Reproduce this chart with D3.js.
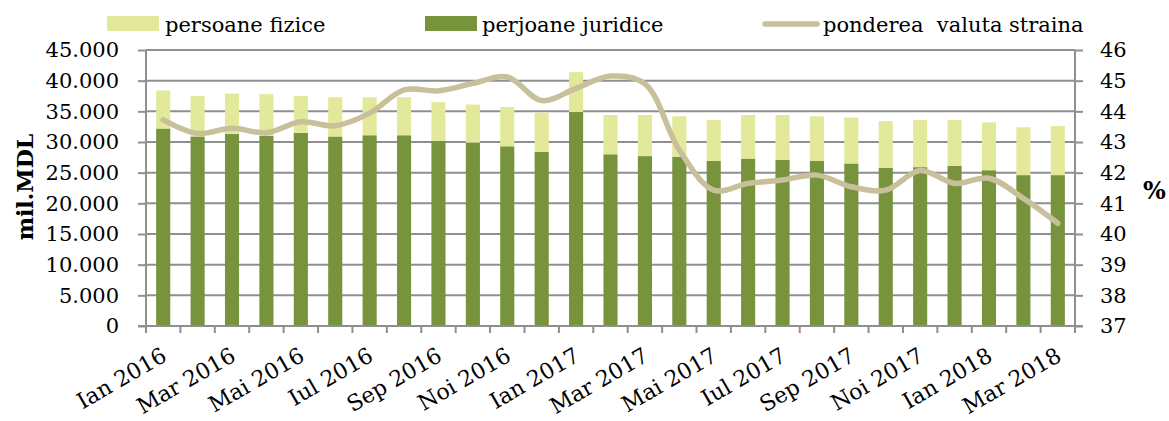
<!DOCTYPE html>
<html>
<head>
<meta charset="utf-8">
<script src="https://cdnjs.cloudflare.com/ajax/libs/d3/7.8.5/d3.min.js"></script>
<style>
    body { margin: 0; background: #fff; }
</style>
</head>
<body>
<svg class="chart"></svg>
<script>
// months Ian 2016 - Mar 2018
var months = ["Ian 2016", "Feb 2016", "Mar 2016", "Apr 2016", "Mai 2016", "Iun 2016", "Iul 2016", "Aug 2016",
    "Sep 2016", "Oct 2016", "Noi 2016", "Dec 2016", "Ian 2017", "Feb 2017", "Mar 2017", "Apr 2017",
    "Mai 2017", "Iun 2017", "Iul 2017", "Aug 2017", "Sep 2017", "Oct 2017", "Noi 2017", "Dec 2017",
    "Ian 2018", "Feb 2018", "Mar 2018"];

var juridice = [32200, 30900, 31300, 31000, 31500, 30900, 31100, 31100, 30200, 29900, 29300, 28400, 34900, 28000,
    27700, 27600, 26900, 27300, 27100, 26900, 26500, 25800, 25900, 26100, 25400, 24600, 24600];
var fizice = [6200, 6600, 6600, 6800, 6000, 6400, 6200, 6200, 6300, 6200, 6400, 6400, 6500, 6400,
    6700, 6600, 6700, 7100, 7300, 7300, 7500, 7600, 7700, 7500, 7800, 7800, 8000];
var ponderea = [43.72, 43.28, 43.45, 43.3, 43.66, 43.53, 43.94, 44.7, 44.67, 44.91, 45.12, 44.35, 44.75, 45.15,
    44.9, 42.74, 41.43, 41.65, 41.76, 41.92, 41.54, 41.43, 42.07, 41.65, 41.82, 41.16, 40.35];

var leftTicks = [0, 5000, 10000, 15000, 20000, 25000, 30000, 35000, 40000, 45000];
var rightTicks = [37, 38, 39, 40, 41, 42, 43, 44, 45, 46];
var legendNames = ["persoane fizice", "perjoane juridice", "ponderea  valuta straina"];

var colDark = "#77933c",
    colLight = "#e3e99b",
    colLine = "#c8c09b",
    colGrid = "#8f8f8f";
var fontFam = "'DejaVu Serif', serif";

var width = 1169,
    height = 421;
var plotL = 146, plotR = 1075, plotT = 50, plotB = 326;

var svg = d3.select(".chart")
    .attr("width", width)
    .attr("height", height);

var ro = d3.formatLocale({decimal: ",", thousands: ".", grouping: [3], currency: ["", ""]});
var fmt = ro.format(",");

var x = d3.scaleBand().domain(months).range([plotL, plotR]).paddingInner(0.59).paddingOuter(0.295);
var yL = d3.scaleLinear().domain([0, 45000]).range([plotB, plotT]);
var yR = d3.scaleLinear().domain([37, 46]).range([plotB, plotT]);

//grid lines
svg.append("g").selectAll("line").data(leftTicks).enter().append("line")
    .attr("x1", plotL).attr("x2", plotR)
    .attr("y1", function(d) { return yL(d); })
    .attr("y2", function(d) { return yL(d); })
    .attr("stroke", colGrid)
    .attr("stroke-width", 2);

//stacked bars
var stackData = months.map(function(m, i) { return {month: m, juridice: juridice[i], fizice: fizice[i]}; });
var series = d3.stack().keys(["juridice", "fizice"])(stackData);
var barCols = {juridice: colDark, fizice: colLight};

svg.append("g").selectAll("g").data(series).enter().append("g")
    .attr("fill", function(s) { return barCols[s.key]; })
    .selectAll("rect").data(function(s) { return s; }).enter().append("rect")
    .attr("x", function(d) { return x(d.data.month); })
    .attr("width", x.bandwidth())
    .attr("y", function(d) { return yL(d[1]); })
    .attr("height", function(d) { return yL(d[0]) - yL(d[1]); });

//left axis
var axL = svg.append("g").attr("transform", "translate(" + plotL + ",0)")
    .call(d3.axisLeft(yL).tickValues(leftTicks).tickFormat(fmt).tickSize(8).tickPadding(19));
//right axis
var axR = svg.append("g").attr("transform", "translate(" + plotR + ",0)")
    .call(d3.axisRight(yR).tickValues(rightTicks).tickSize(8).tickPadding(17));

[axL, axR].forEach(function(a) {
    a.attr("font-family", null).attr("font-size", null);
    a.selectAll("path, line").attr("stroke", colGrid).attr("stroke-width", 2);
    a.selectAll("text").style("font-family", fontFam).style("font-size", "21px").attr("fill", "#000");
});
axL.select(".domain").attr("d", "M0," + plotB + "V" + plotT);
axR.select(".domain").attr("d", "M0," + plotB + "V" + plotT);

//x axis line + ticks between months
var step = x.step();
var xAxisG = svg.append("g");
xAxisG.append("line")
    .attr("x1", plotL - 8).attr("x2", plotR + 8)
    .attr("y1", plotB).attr("y2", plotB)
    .attr("stroke", colGrid).attr("stroke-width", 2);
xAxisG.selectAll(".xt").data(months.concat(["end"])).enter().append("line")
    .attr("class", "xt")
    .attr("x1", function(d, i) { return plotL + i * step; })
    .attr("x2", function(d, i) { return plotL + i * step; })
    .attr("y1", plotB).attr("y2", plotB + 7)
    .attr("stroke", colGrid).attr("stroke-width", 2);

//month labels, every second one
xAxisG.selectAll(".xl").data(months.filter(function(d, i) { return i % 2 === 0; })).enter().append("text")
    .attr("class", "xl")
    .attr("text-anchor", "end")
    .style("font-family", fontFam)
    .style("font-size", "22px")
    .attr("transform", function(d) {
        return "translate(" + (x(d) + x.bandwidth() / 2 + 5) + "," + (plotB + 34) + ") rotate(-30)";
    })
    .text(function(d) { return d; });

//line for ponderea
var line = d3.line()
    .x(function(d, i) { return x(months[i]) + x.bandwidth() / 2; })
    .y(function(d) { return yR(d); })
    .curve(d3.curveCatmullRom.alpha(0.5));

svg.append("path").datum(ponderea)
    .attr("d", line)
    .attr("fill", "none")
    .attr("stroke", colLine)
    .attr("stroke-width", 5.5)
    .attr("stroke-linecap", "round")
    .attr("stroke-linejoin", "round");

//axis titles
svg.append("text")
    .attr("transform", "translate(33,187) rotate(-90)")
    .attr("text-anchor", "middle")
    .style("font-family", fontFam)
    .style("font-size", "22px")
    .style("font-weight", "bold")
    .text("mil.MDL");

svg.append("text")
    .attr("x", 1143).attr("y", 199)
    .style("font-family", fontFam)
    .style("font-size", "24px")
    .style("font-weight", "bold")
    .text("%");

//legend
var legend = svg.append("g");
legend.append("rect").attr("x", 107).attr("y", 16).attr("width", 52).attr("height", 15).attr("fill", colLight);
legend.append("rect").attr("x", 425).attr("y", 16).attr("width", 52).attr("height", 15).attr("fill", colDark);
legend.append("line").attr("x1", 765).attr("x2", 817).attr("y1", 24).attr("y2", 24)
    .attr("stroke", colLine).attr("stroke-width", 5.5).attr("stroke-linecap", "round");
legend.selectAll("text").data(legendNames).enter().append("text")
    .attr("x", function(d, i) { return [165, 482, 823][i]; })
    .attr("y", 32)
    .style("font-family", fontFam)
    .style("font-size", "21px")
    .style("white-space", "pre")
    .text(function(d) { return d; });
</script>
</body>
</html>
